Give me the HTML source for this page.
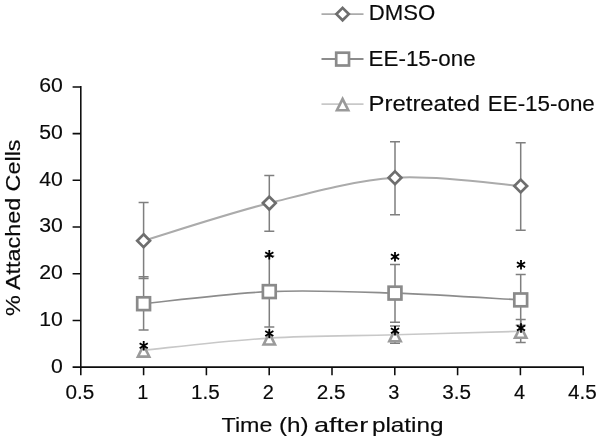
<!DOCTYPE html>
<html><head><meta charset="utf-8">
<style>
html,body{margin:0;padding:0;background:#fff;}
svg{display:block;will-change:transform;opacity:0.999;}
text{font-family:"Liberation Sans",sans-serif;fill:#0a0a0a;stroke:#0a0a0a;stroke-width:0.15px;}
</style></head><body>
<svg width="598" height="441" viewBox="0 0 598 441">
<rect width="598" height="441" fill="#fff"/>
<g fill="none" stroke-width="1.6" stroke-linecap="round">
<path d="M143.60 240.70 C164.55 234.43 227.40 213.58 269.30 203.10 C311.20 192.62 353.10 180.65 395.00 177.80 C436.90 174.95 499.75 184.63 520.70 186.00" stroke="#ababab" stroke-width="2"/>
<path d="M143.60 303.70 C164.55 301.68 227.40 293.37 269.30 291.60 C311.20 289.83 353.10 291.72 395.00 293.10 C436.90 294.48 499.75 298.77 520.70 299.90" stroke="#8c8c8c"/>
<path d="M143.60 350.20 C164.55 348.18 227.40 340.67 269.30 338.10 C311.20 335.53 353.10 335.93 395.00 334.80 C436.90 333.67 499.75 331.88 520.70 331.30" stroke="#c8c8c8"/>
</g>
<g fill="none" stroke="#7f7f7f" stroke-width="1.5">
<path d="M138.6 202.5H148.6M138.6 278.5H148.6M143.6 202.5V278.5"/>
<path d="M264.3 175.4H274.3M264.3 231.2H274.3M269.3 175.4V231.2"/>
<path d="M390.0 141.8H400.0M390.0 214.7H400.0M395.0 141.8V214.7"/>
<path d="M515.7 142.7H525.7M515.7 230.3H525.7M520.7 142.7V230.3"/>
<path d="M138.6 276.8H148.6M138.6 330.0H148.6M143.6 276.8V330.0"/>
<path d="M264.3 256.0H274.3M264.3 327.0H274.3M269.3 256.0V327.0"/>
<path d="M390.0 264.4H400.0M390.0 322.2H400.0M395.0 264.4V322.2"/>
<path d="M515.7 274.5H525.7M515.7 325.3H525.7M520.7 274.5V325.3"/>
<path d="M390.0 326.0H400.0M390.0 343.3H400.0M395.0 326.0V343.3"/>
<path d="M515.7 319.6H525.7M515.7 342.4H525.7M520.7 319.6V342.4"/>
</g>
<g fill="#fff" stroke-width="2.7" stroke-linejoin="miter">
<path d="M143.6 234.3L150.0 240.7L143.6 247.1L137.2 240.7Z" stroke="#6e6e6e"/>
<path d="M269.3 196.7L275.7 203.1L269.3 209.5L262.9 203.1Z" stroke="#6e6e6e"/>
<path d="M395.0 171.4L401.4 177.8L395.0 184.2L388.6 177.8Z" stroke="#6e6e6e"/>
<path d="M520.7 179.6L527.1 186.0L520.7 192.4L514.3 186.0Z" stroke="#6e6e6e"/>
<rect x="137.2" y="297.3" width="12.8" height="12.8" stroke="#8a8a8a"/>
<rect x="262.9" y="285.2" width="12.8" height="12.8" stroke="#8a8a8a"/>
<rect x="388.6" y="286.7" width="12.8" height="12.8" stroke="#8a8a8a"/>
<rect x="514.3" y="293.5" width="12.8" height="12.8" stroke="#8a8a8a"/>
<path stroke="none" fill="#9a9a9a" d="M143.60 342.40L151.40 357.90L135.80 357.90Z"/><path stroke="none" fill="#fff" d="M143.60 348.18L147.18 355.30L140.02 355.30Z"/>
<path stroke="none" fill="#9a9a9a" d="M269.30 330.30L277.10 345.80L261.50 345.80Z"/><path stroke="none" fill="#fff" d="M269.30 336.08L272.88 343.20L265.72 343.20Z"/>
<path stroke="none" fill="#9a9a9a" d="M395.00 327.00L402.80 342.50L387.20 342.50Z"/><path stroke="none" fill="#fff" d="M395.00 332.78L398.58 339.90L391.42 339.90Z"/>
<path stroke="none" fill="#9a9a9a" d="M520.70 323.50L528.50 339.00L512.90 339.00Z"/><path stroke="none" fill="#fff" d="M520.70 329.28L524.28 336.40L517.12 336.40Z"/>
</g>
<g stroke="#000" stroke-width="1.8" fill="none">
<path d="M143.70 341.00V350.40M139.63 343.16L147.77 348.24M139.63 348.24L147.77 343.16"/>
<path d="M269.30 250.10V259.50M265.23 252.26L273.37 257.34M265.23 257.34L273.37 252.26"/>
<path d="M269.30 328.80V338.20M265.23 330.96L273.37 336.04M265.23 336.04L273.37 330.96"/>
<path d="M395.00 252.00V261.40M390.93 254.16L399.07 259.24M390.93 259.24L399.07 254.16"/>
<path d="M395.00 326.10V335.50M390.93 328.26L399.07 333.34M390.93 333.34L399.07 328.26"/>
<path d="M521.00 260.00V269.40M516.93 262.16L525.07 267.24M516.93 267.24L525.07 262.16"/>
<path d="M521.00 323.30V332.70M516.93 325.46L525.07 330.54M516.93 330.54L525.07 325.46"/>
</g>
<g stroke="#0c0c0c" stroke-width="1.55" fill="none">
<path d="M80.8 86.1V367.1H583.9"/>
<path d="M72.6 367.10H80.8M72.6 320.40H80.8M72.6 273.70H80.8M72.6 227.00H80.8M72.6 180.30H80.8M72.6 133.60H80.8M72.6 86.90H80.8M80.80 367.1V375.2M143.60 367.1V375.2M206.40 367.1V375.2M269.20 367.1V375.2M332.00 367.1V375.2M394.80 367.1V375.2M457.60 367.1V375.2M520.40 367.1V375.2M583.20 367.1V375.2"/>
</g>
<g font-size="20" text-anchor="end">
<text x="62.8" y="372.5" textLength="11.8" lengthAdjust="spacingAndGlyphs">0</text>
<text x="62.8" y="325.8" textLength="23.6" lengthAdjust="spacingAndGlyphs">10</text>
<text x="62.8" y="279.1" textLength="23.6" lengthAdjust="spacingAndGlyphs">20</text>
<text x="62.8" y="232.4" textLength="23.6" lengthAdjust="spacingAndGlyphs">30</text>
<text x="62.8" y="185.7" textLength="23.6" lengthAdjust="spacingAndGlyphs">40</text>
<text x="62.8" y="139.0" textLength="23.6" lengthAdjust="spacingAndGlyphs">50</text>
<text x="62.8" y="92.3" textLength="23.6" lengthAdjust="spacingAndGlyphs">60</text>
</g>
<g font-size="20" text-anchor="middle">
<text x="79.9" y="398.8" textLength="28.8" lengthAdjust="spacingAndGlyphs">0.5</text>
<text x="142.7" y="398.8" textLength="11.1" lengthAdjust="spacingAndGlyphs">1</text>
<text x="205.5" y="398.8" textLength="28.8" lengthAdjust="spacingAndGlyphs">1.5</text>
<text x="268.3" y="398.8" textLength="11.1" lengthAdjust="spacingAndGlyphs">2</text>
<text x="331.1" y="398.8" textLength="28.8" lengthAdjust="spacingAndGlyphs">2.5</text>
<text x="393.9" y="398.8" textLength="11.1" lengthAdjust="spacingAndGlyphs">3</text>
<text x="456.7" y="398.8" textLength="28.8" lengthAdjust="spacingAndGlyphs">3.5</text>
<text x="519.5" y="398.8" textLength="11.1" lengthAdjust="spacingAndGlyphs">4</text>
<text x="582.3" y="398.8" textLength="28.8" lengthAdjust="spacingAndGlyphs">4.5</text>
</g>
<g font-size="21">
<text x="221.6" y="432.3" textLength="50.8" lengthAdjust="spacingAndGlyphs">Time</text>
<text x="279.0" y="432.3" textLength="29.6" lengthAdjust="spacingAndGlyphs">(h)</text>
<text x="313.9" y="432.3" textLength="54.4" lengthAdjust="spacingAndGlyphs">after</text>
<text x="371.9" y="432.3" textLength="71.6" lengthAdjust="spacingAndGlyphs">plating</text>
</g>
<text transform="translate(20.4,316) rotate(-90)" font-size="19.5" textLength="176.5" lengthAdjust="spacingAndGlyphs">% Attached Cells</text>
<g fill="none" stroke-width="1.8">
<path d="M321.5 14.1H363.5" stroke="#ababab"/><path d="M321.5 59.0H363.5" stroke="#8c8c8c"/><path d="M321.5 104.1H363.5" stroke="#c8c8c8"/>
</g>
<g fill="#fff" stroke-width="2.7">
<path d="M342.6 7.9L348.8 14.1L342.6 20.3L336.4 14.1Z" stroke="#6e6e6e"/>
<rect x="336.2" y="52.7" width="12.8" height="12.8" stroke="#8a8a8a"/>
<path stroke="none" fill="#9a9a9a" d="M342.60 96.10L350.40 111.60L334.80 111.60Z"/><path stroke="none" fill="#fff" d="M342.60 101.88L346.18 109.00L339.02 109.00Z"/>
</g>
<g font-size="21.7">
<text x="368.8" y="20.3" textLength="66.5" lengthAdjust="spacingAndGlyphs">DMSO</text>
<text x="368.6" y="66.4" textLength="107" lengthAdjust="spacingAndGlyphs">EE-15-one</text>
<text x="368.6" y="110.9" textLength="111.5" lengthAdjust="spacingAndGlyphs">Pretreated</text>
<text x="487.8" y="110.9" textLength="107" lengthAdjust="spacingAndGlyphs">EE-15-one</text>
</g>
</svg>
</body></html>
